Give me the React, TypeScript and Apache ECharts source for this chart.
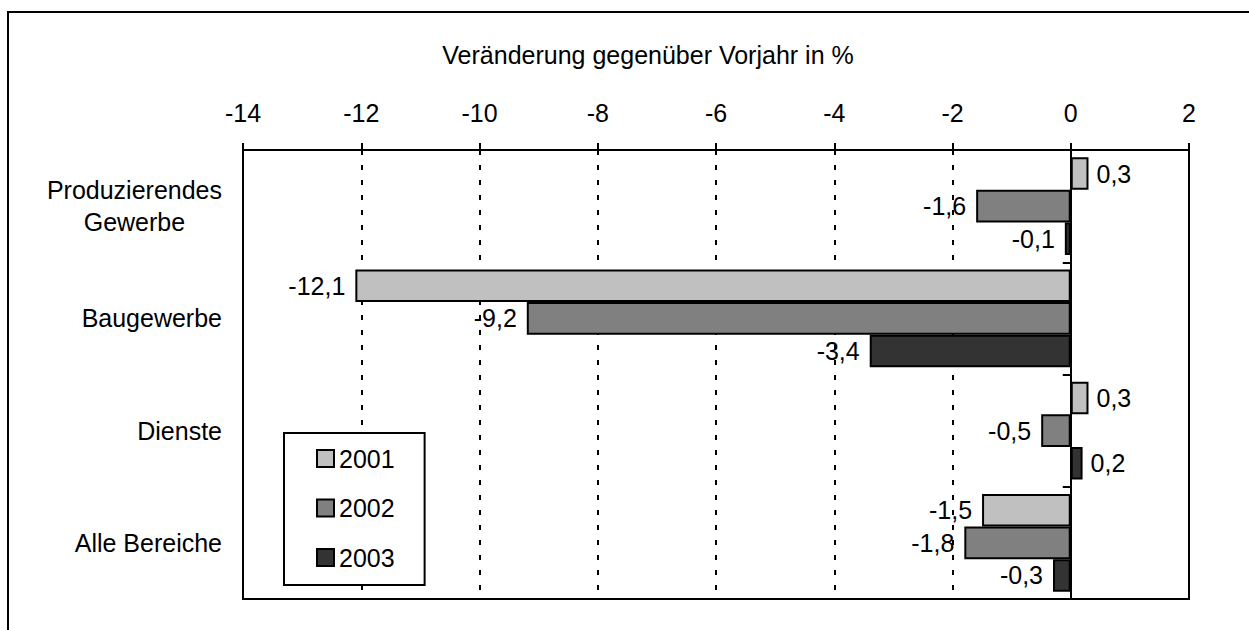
import React, { useEffect, useRef } from "react";
import * as echarts from "echarts";

const categories = ["Produzierendes\nGewerbe", "Baugewerbe", "Dienste", "Alle Bereiche"];
const seriesNames = ["2001", "2002", "2003"];
const values2001 = [0.3, -12.1, 0.3, -1.5];
const values2002 = [-1.6, -9.2, -0.5, -1.8];
const values2003 = [-0.1, -3.4, 0.2, -0.3];
const seriesColors = ["#c0c0c0", "#808080", "#333333"];
const xMin = -14;
const xMax = 2;
const xStep = 2;
const titleText = "Veränderung gegenüber Vorjahr in %";

const FONT = "'Liberation Sans', Arial, Helvetica, sans-serif";

export default function App() {
  const ref = useRef<HTMLDivElement>(null);
  useEffect(() => {
    if (!ref.current) return;
    const chart = echarts.init(ref.current, null, { renderer: "svg" });
    const allValues = [values2001, values2002, values2003];
    const series = seriesNames.map((name, i) => ({
      name,
      type: "bar",
      yAxisIndex: 0,
      barGap: "0%",
      barCategoryGap: "13%",
      itemStyle: { color: seriesColors[i], borderColor: "#000", borderWidth: 2 },
      label: {
        show: true,
        fontFamily: FONT,
        fontSize: 25,
        color: "#000",
        formatter: (p: any) => String(p.value).replace(".", ","),
      },
      data: allValues[i].map((v) => ({
        value: v,
        label: { position: v >= 0 ? "right" : "left", distance: v >= 0 ? 8 : 10 },
      })),
    }));
    chart.setOption({
      animation: false,
      backgroundColor: "#fff",
      textStyle: { fontFamily: FONT },
      grid: {
        left: 243,
        right: 60,
        top: 150,
        bottom: 31,
        show: true,
        borderColor: "#000",
        borderWidth: 2,
        backgroundColor: "transparent",
      },
      legend: {
        orient: "vertical",
        left: 284,
        top: 433,
        padding: [13, 30, 15, 32],
        itemGap: 24.5,
        itemWidth: 17,
        itemHeight: 17,
        icon: "rect",
        borderColor: "#000",
        borderWidth: 2,
        backgroundColor: "#fff",
        textStyle: { fontFamily: FONT, fontSize: 25, color: "#000" },
        data: seriesNames,
      },
      xAxis: {
        type: "value",
        position: "top",
        min: xMin,
        max: xMax,
        interval: xStep,
        axisLine: { show: true, onZero: false, lineStyle: { color: "#000", width: 2 } },
        axisTick: { show: true, inside: false, length: 7, lineStyle: { color: "#000", width: 2 } },
        axisLabel: { fontFamily: FONT, fontSize: 25, color: "#000", margin: 25 },
        splitLine: {
          show: true,
          showMinLine: false,
          showMaxLine: false,
          lineStyle: { color: "#000", width: 2, type: [5, 10] },
        },
      },
      yAxis: [
        {
          type: "category",
          data: categories,
          inverse: true,
          position: "left",
          axisLine: { show: false, onZero: false },
          axisTick: { show: false },
          axisLabel: {
            margin: 21,
            align: "right",
            formatter: (v: string) => v.split("\n").map((l) => `{c|${l}}`).join("\n"),
            rich: {
              c: { align: "center", fontFamily: FONT, fontSize: 25, lineHeight: 32, color: "#000" },
            },
          },
        },
        {
          type: "category",
          data: categories,
          inverse: true,
          position: "left",
          axisLine: { show: true, onZero: true, lineStyle: { color: "#000", width: 2 } },
          axisTick: { show: true, inside: false, length: 8, lineStyle: { color: "#000", width: 2 } },
          axisLabel: { show: false },
        },
      ],
      graphic: [
        {
          type: "rect",
          shape: { x: 8, y: 12, width: 1300, height: 700 },
          style: { fill: "none", stroke: "#000", lineWidth: 2 },
          silent: true,
        },
        {
          type: "text",
          x: 648,
          y: 55,
          style: {
            text: titleText,
            fontFamily: FONT,
            fontSize: 25,
            fill: "#000",
            textAlign: "center",
            textVerticalAlign: "middle",
          },
        },
      ],
      series,
    });
    return () => chart.dispose();
  }, []);
  return (
    <div
      ref={ref}
      style={{ position: "fixed", left: 0, top: 0, width: 1249, height: 630 }}
    />
  );
}
